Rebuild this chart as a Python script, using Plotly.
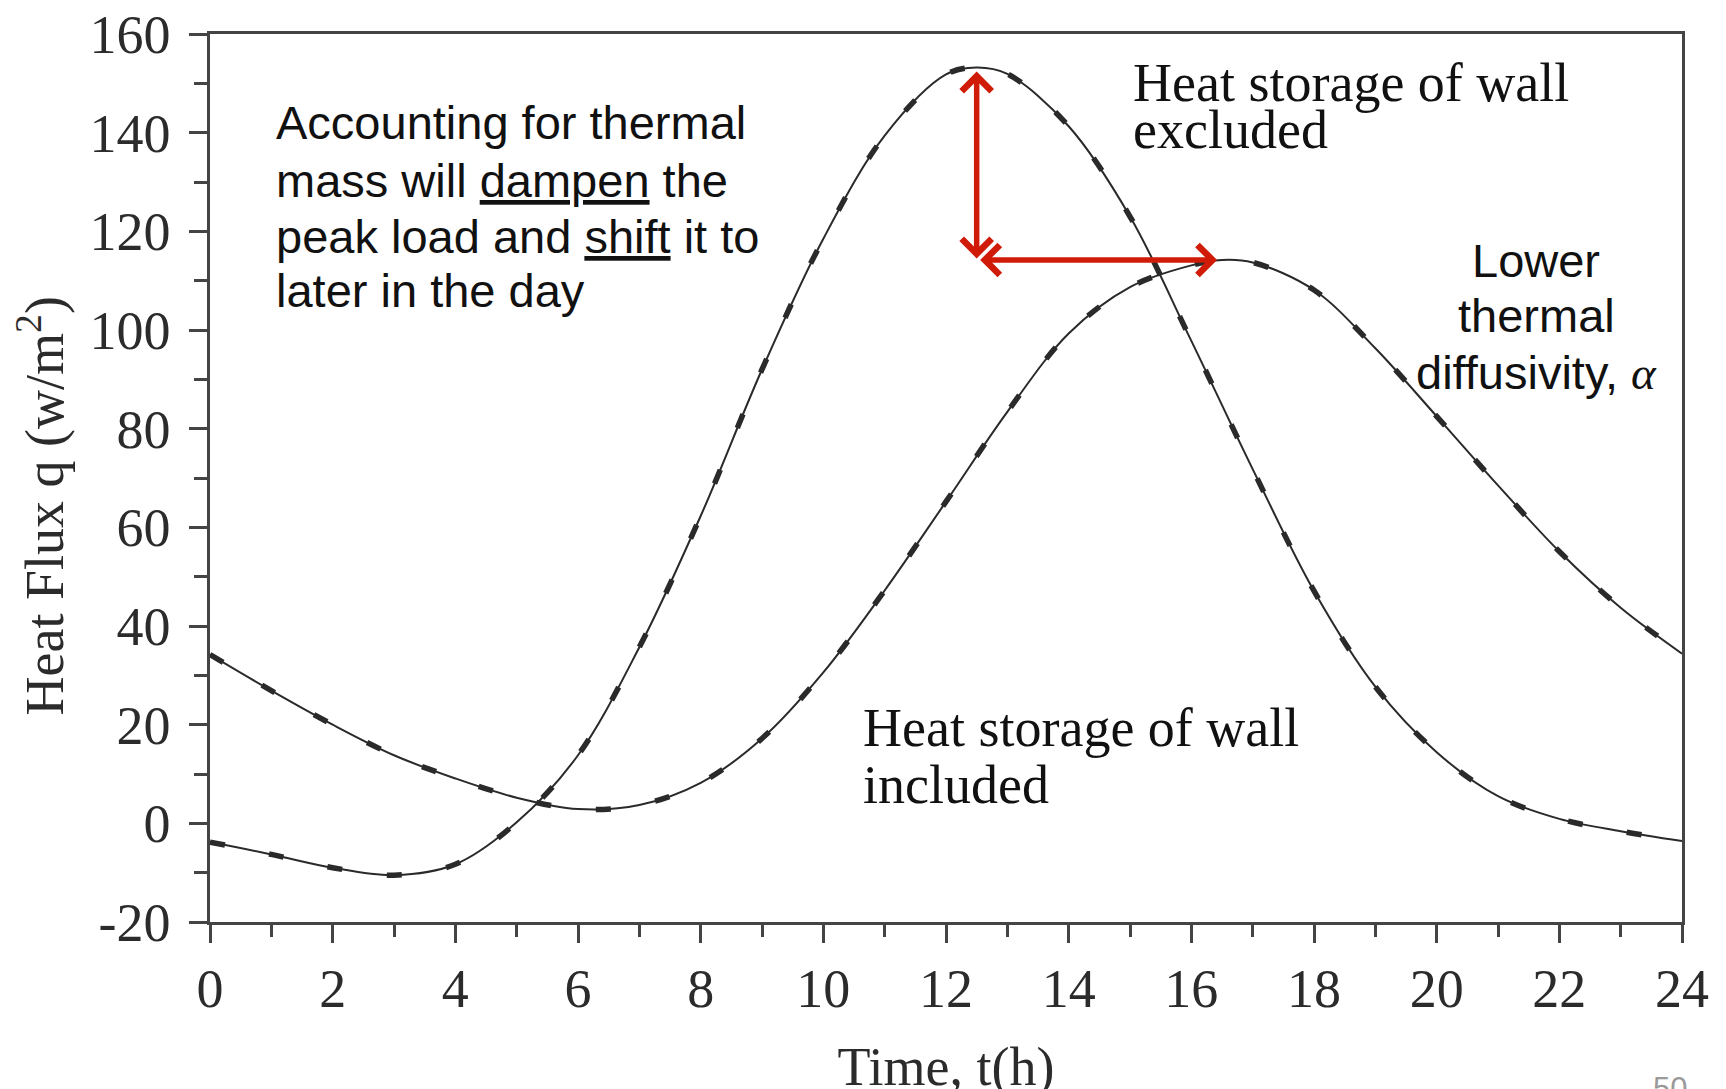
import plotly.graph_objects as go

# ---------------- data ----------------
hours_excluded = [0, 1, 2, 3, 4, 5, 6, 7, 8, 9, 10, 11, 12, 12.5, 13, 14, 15, 16,
                  17, 18, 19, 20, 21, 22, 23, 24]
flux_excluded = [-3.8, -6.3, -9.0, -10.5, -8.3, 0.2, 13.8, 35.7, 62.3, 92.0, 118.5,
                 139.4, 151.8, 153.2, 151.9, 141.3, 123.0, 97.8, 71.8, 47.1, 27.7,
                 14.4, 5.5, 0.9, -1.6, -3.6]

hours_included = [0, 1, 2, 3, 4, 5, 6, 7, 8, 9, 10, 11, 12, 13, 14, 15, 16, 16.5,
                  17, 18, 19, 20, 21, 22, 23, 24]
flux_included = [34.2, 26.9, 20.0, 13.8, 9.1, 5.2, 2.9, 3.7, 8.2, 17.2, 30.6, 47.2,
                 65.2, 83.4, 99.3, 108.7, 113.1, 114.2, 113.7, 108.1, 96.3, 82.5,
                 68.5, 55.1, 43.7, 34.4]

x_ticks = [0, 2, 4, 6, 8, 10, 12, 14, 16, 18, 20, 22, 24]
x_minor = [1, 3, 5, 7, 9, 11, 13, 15, 17, 19, 21, 23]
y_ticks = [-20, 0, 20, 40, 60, 80, 100, 120, 140, 160]
y_ticktext = ["-20", "0", "20", "40", "60", "80", "100", "120", "140", "160"]
y_minor = [-10, 10, 30, 50, 70, 90, 110, 130, 150]

# ---------------- styling ----------------
SERIF = "Liberation Serif"
SANS = "Liberation Sans"
AXIS_COL = "#444444"
LINE_COL = "#2a2a2a"
TEXT_COL = "#111111"
TICK_COL = "#2b2b2b"
RED = "#cf1b08"
SERIF_SIZE = 54
SANS_SIZE = 47

fig = go.Figure()

for hrs, vals in [(hours_excluded, flux_excluded), (hours_included, flux_included)]:
    fig.add_trace(go.Scatter(x=hrs, y=vals, mode="lines", line_shape="spline",
                             line=dict(color=LINE_COL, width=2), hoverinfo="skip"))
    fig.add_trace(go.Scatter(x=hrs, y=vals, mode="lines", line_shape="spline",
                             line=dict(color=LINE_COL, width=5.5, dash="15px,45px"),
                             hoverinfo="skip"))

# peak positions derived from the data
i_a = flux_excluded.index(max(flux_excluded))
i_b = flux_included.index(max(flux_included))
t_pa, q_pa = hours_excluded[i_a], flux_excluded[i_a]
t_pb, q_pb = hours_included[i_b], flux_included[i_b]

arrow_common = dict(xref="x", yref="y", axref="x", ayref="y", text="", showarrow=True,
                    arrowhead=4, startarrowhead=4, arrowside="end+start",
                    arrowsize=1.05, startarrowsize=1.05, arrowwidth=5.5,
                    arrowcolor=RED)
# vertical: dampening of the peak
fig.add_annotation(x=t_pa, y=q_pa, ax=t_pa, ay=q_pb, standoff=4, startstandoff=0,
                   **arrow_common)
# horizontal: shift of the peak
fig.add_annotation(x=t_pb - 0.08, y=q_pb, ax=t_pa, ay=q_pb, standoff=0,
                   startstandoff=2, **arrow_common)


def label(x, y, text, family, size, xanchor="left"):
    fig.add_annotation(x=x, y=y, xref="x", yref="y", text=text, showarrow=False,
                       xanchor=xanchor, yanchor="middle", borderpad=0, borderwidth=0,
                       font=dict(family=family, size=size, color=TEXT_COL))


# sans annotation block
for yv, txt in [(142.0, "Accounting for thermal"),
                (130.4, "mass will <u>dampen</u> the"),
                (118.9, "peak load and <u>shift</u> it to"),
                (108.1, "later in the day")]:
    label(1.08, yv, txt, SANS, SANS_SIZE)

for yv, txt in [(114.0, "Lower"), (102.9, "thermal"),
                (91.3, "diffusivity, <span style='font-family:Liberation Serif'><i>α</i></span>")]:
    label(21.62, yv, txt, SANS, SANS_SIZE, xanchor="center")

# serif labels
for yv, txt in [(150.1, "Heat storage of wall"), (140.5, "excluded")]:
    label(15.05, yv, txt, SERIF, SERIF_SIZE)
for yv, txt in [(19.4, "Heat storage of wall"), (7.8, "included")]:
    label(10.65, yv, txt, SERIF, SERIF_SIZE)

# y-axis title (sits a little below the axis centre in the reference)
fig.add_annotation(x=-0.1148, y=0.468, xref="paper", yref="paper",
                   text="Heat Flux q (w/m<sup>2</sup>)", textangle=-90, showarrow=False,
                   xanchor="center", yanchor="middle", borderpad=0, borderwidth=0,
                   font=dict(family=SERIF, size=SERIF_SIZE, color=TICK_COL))

# slide page number (cut at the bottom edge)
fig.add_annotation(x=0.992, y=-0.188, xref="paper", yref="paper", text="50",
                   showarrow=False, xanchor="center", yanchor="middle",
                   font=dict(family=SANS, size=31, color="#9a9a9a"))

axis_common = dict(showline=True, linecolor=AXIS_COL, linewidth=2.5, mirror=True,
                   showgrid=False, zeroline=False, ticks="outside", ticklen=18,
                   tickwidth=2.5, tickcolor=AXIS_COL, ticklabeloverflow="allow",
                   tickfont=dict(family=SERIF, size=SERIF_SIZE, color=TICK_COL))

# the page body adds an 8 px offset, so margins are shifted to keep the plot area
# where the reference has it
fig.update_layout(
    width=1726, height=1089,
    margin=dict(l=202, r=52, t=26, b=175, autoexpand=False),
    paper_bgcolor="white", plot_bgcolor="white",
    showlegend=False,
    xaxis=dict(range=[0, 24], tickmode="array", tickvals=x_ticks,
               ticklabelstandoff=-1,
               minor=dict(tickmode="array", tickvals=x_minor, ticks="outside",
                          ticklen=12, tickwidth=2.5, tickcolor=AXIS_COL, showgrid=False),
               title=dict(text="Time, t(h)", standoff=35,
                          font=dict(family=SERIF, size=SERIF_SIZE, color=TICK_COL)),
               **axis_common),
    yaxis=dict(range=[-20, 160], tickmode="array", tickvals=y_ticks, ticktext=y_ticktext,
               ticklabelstandoff=8,
               minor=dict(tickmode="array", tickvals=y_minor, ticks="outside",
                          ticklen=13, tickwidth=2.5, tickcolor=AXIS_COL, showgrid=False),
               **axis_common),
)

fig.write_html("out.html")
